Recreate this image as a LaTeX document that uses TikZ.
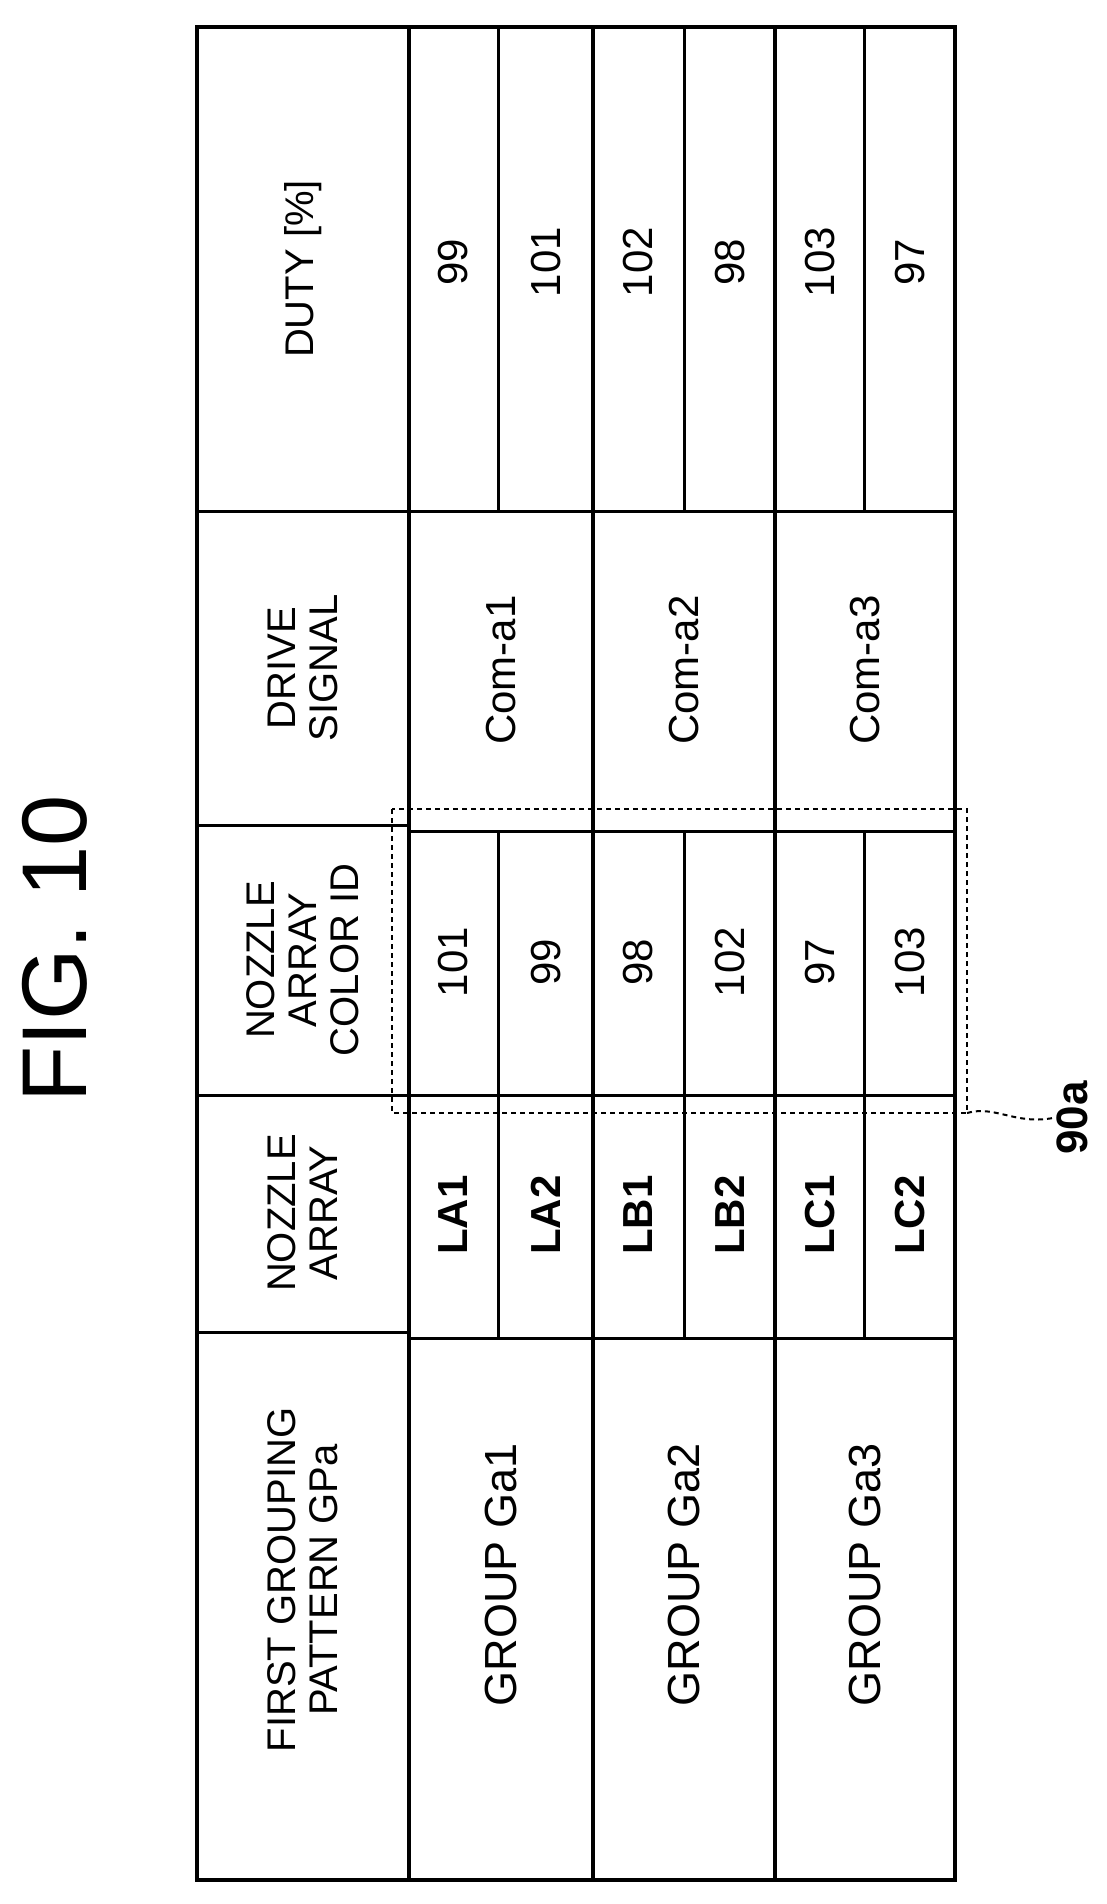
\documentclass[tikz,border=0pt]{standalone}
\usepackage{fontspec}
\setmainfont{Liberation Sans}
\begin{document}
\begin{tikzpicture}[x=1pt,y=-1pt,
  hd/.style={rotate=90,align=center,font=\fontsize{40}{42}\selectfont},
  dat/.style={rotate=90,font=\fontsize{42}{44}\selectfont},
  thick line/.style={line width=4pt},
  thin line/.style={line width=3pt}]
\useasboundingbox (0,0) rectangle (1107,1904);

% frame and group lines
\draw[thick line] (197,27) rectangle (955,1880);
\foreach \x in {409,593,775}{\draw[thick line] (\x,27) -- (\x,1880);}
% column lines
\draw[thin line] (197,511) -- (955,511);
\draw[thin line] (409,831) -- (955,831);
\draw[thin line] (197,825) -- (409,825);
\draw[thin line] (197,1095) -- (955,1095);
\draw[thin line] (197,1332) -- (409,1332);
\draw[thin line] (409,1338) -- (955,1338);
% sub rows
\foreach \x in {498,684,864}{
  \draw[thin line] (\x,27) -- (\x,511);
  \draw[thin line] (\x,831) -- (\x,1338);}

% headers
\node[hd] (hgrp) at (303,1580) {FIRST GROUPING\\PATTERN GPa};
\node[hd] (hnoz) at (303,1213) {NOZZLE\\ARRAY};
\node[hd] (hcid) at (303,960) {NOZZLE\\ARRAY\\COLOR ID};
\node[hd] (hdrv) at (303,668) {DRIVE\\SIGNAL};
\node[hd] (hdut) at (303,269) {DUTY [\%]};

% groups and drive signals
\foreach \g/\x in {1/501,2/684,3/865}{
  \node[hd,font=\fontsize{45}{45}\selectfont] (grp\g) at (\x,1575) {GROUP Ga\g};
  \node[dat] (drv\g) at (\x,670) {Com-a\g};}

% sub rows
\foreach \n/\x/\c/\d in {LA1/453/101/99,LA2/546/99/101,LB1/638/98/102,LB2/730/102/98,LC1/820/97/103,LC2/910/103/97}{
  \node[dat,font=\fontsize{42}{42}\selectfont\bfseries] (noz\n) at (\x,1215) {\n};
  \node[dat] (cid\n) at (\x,962) {\c};
  \node[dat] (dut\n) at (\x,262) {\d};}

% 90a box
\draw[line width=2.5pt,dash pattern=on 5pt off 4pt] (392,809) rectangle (967,1113);
\coordinate (lead) at (967,1113);
\node[dat,font=\fontsize{44}{44}\selectfont\bfseries] (lbl) at (1072,1118) {90a};
\draw[line width=2pt,dash pattern=on 5pt off 4pt] (lead) .. controls (995,1105) and (1015,1125) .. (lbl.north);

\node[rotate=90,font=\fontsize{92}{92}\selectfont] (fig) at (55,949) {FIG. 10};
\end{tikzpicture}
\end{document}
